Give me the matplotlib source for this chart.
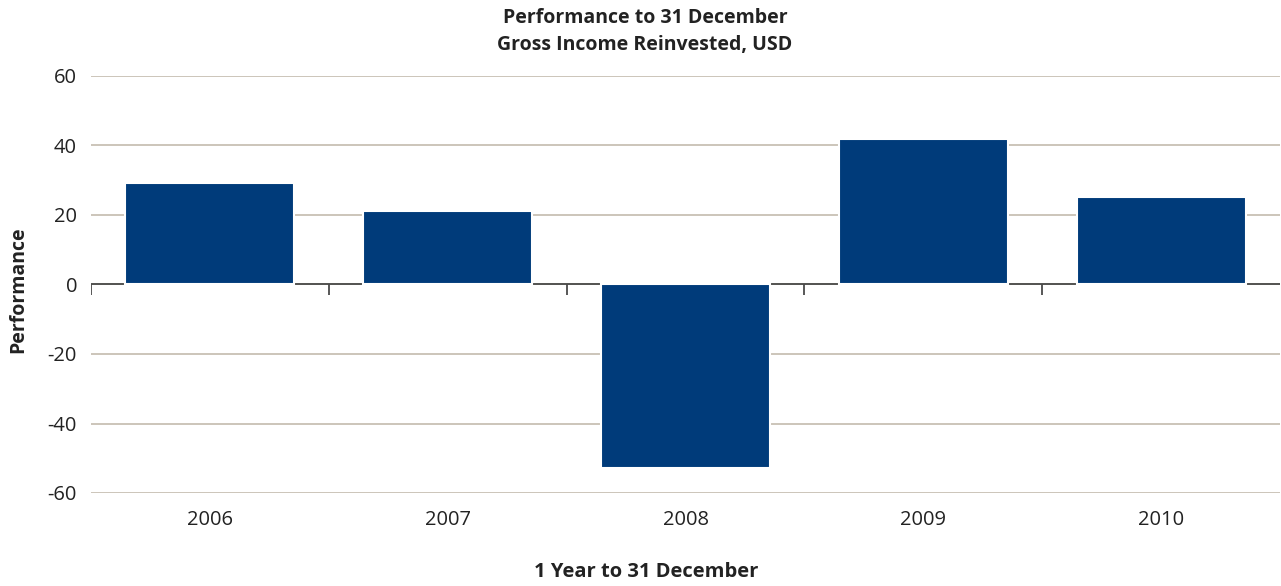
import matplotlib.pyplot as plt
import numpy as np

# data
years = ["2006", "2007", "2008", "2009", "2010"]
performance = [29.2, 21.2, -52.8, 41.9, 25.2]
y_ticks = [-60, -40, -20, 0, 20, 40, 60]

plt.rcParams['font.family'] = ['Open Sans', 'DejaVu Sans']

W, H = 1281, 586
fig = plt.figure(figsize=(W / 100, H / 100), dpi=100)
ax = fig.add_axes([91 / W, 1 - 493 / H, (1280 - 91) / W, (493 - 76) / H])

x = np.arange(len(years))
ax.bar(x, performance, width=0.71, color="#003b7a", edgecolor="white",
       linewidth=1.5, zorder=3)

# zero line with ticks on the category borders
ax.axhline(0, color="#4a4a4a", linewidth=1.3, zorder=2)
borders = np.arange(len(years)) - 0.5
ax.vlines(borders, -2.9, 0, color="#4a4a4a", linewidth=1.3, zorder=2)

ax.set_xlim(-0.5, len(years) - 0.5)
ax.set_ylim(-60, 60)
ax.set_yticks(y_ticks)
ax.set_yticklabels([str(v) for v in y_ticks], fontsize=14.5, color="#222222")
ax.set_xticks(x)
ax.set_xticklabels(years, fontsize=14.5, color="#222222")
ax.tick_params(axis="both", length=0)
ax.tick_params(axis="y", pad=10)
ax.tick_params(axis="x", pad=12)
ax.grid(axis="y", color="#c4bbae", linewidth=1.2, zorder=0)
for s in ax.spines.values():
    s.set_visible(False)

fig.text(645 / W, 1 - 18 / H, "Performance to 31 December", ha="center", va="center",
         fontsize=14, fontweight="bold", color="#222222")
fig.text(645 / W, 1 - 45 / H, "Gross Income Reinvested, USD", ha="center", va="center",
         fontsize=14, fontweight="bold", color="#222222")
fig.text(646 / W, 1 - 572 / H, "1 Year to 31 December", ha="center", va="center",
         fontsize=14.5, fontweight="bold", color="#222222")
fig.text(18 / W, 1 - 290 / H, "Performance", ha="center", va="center", rotation=90,
         fontsize=14, fontweight="bold", color="#222222")

fig.savefig("out.png", dpi=100)
